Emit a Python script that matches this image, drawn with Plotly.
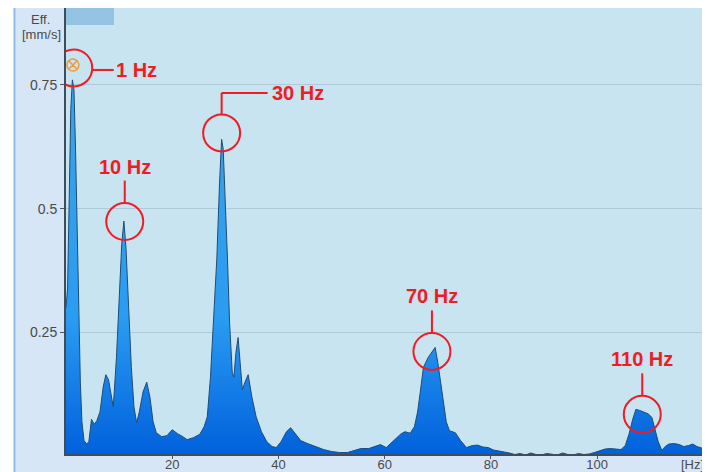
import plotly.graph_objects as go

# Spectrum (frequency in Hz, effective velocity in mm/s)
freq = [0.0, 0.3, 0.6, 0.9, 1.2, 1.5, 1.8, 2.1, 2.4, 2.7, 3.0, 3.4, 3.9, 4.3, 4.8, 5.3, 5.8, 6.4,
        7.0, 7.5, 8.0, 8.5, 8.9, 9.5, 10.0, 10.5, 10.9, 11.3, 11.8, 12.3, 12.8, 13.3, 13.8, 14.5,
        15.2, 15.8, 16.4, 17.0, 18.0, 19.0, 20.0, 21.0, 22.0, 22.8, 24.0, 25.2, 26.0, 26.6, 27.2,
        27.8, 28.4, 28.9, 29.3, 29.6, 30.0, 30.4, 30.8, 31.3, 31.6, 32.0, 32.4, 32.8, 33.2, 33.7,
        34.3, 35.0, 35.8, 36.8, 37.8, 38.8, 39.6, 40.5, 41.5, 42.3, 43.2, 44.2, 45.5, 47.0, 48.5,
        50.0, 51.5, 53.0, 54.5, 55.5, 57.0, 58.2, 59.2, 60.3, 61.3, 62.3, 63.0, 63.8, 64.8, 65.6,
        66.2, 66.7, 67.3, 68.2, 68.9, 69.5, 70.0, 70.5, 71.0, 71.6, 72.2, 73.3, 74.3, 75.4, 76.5,
        77.5, 78.5, 79.5, 80.5, 81.5, 82.5, 83.5, 84.5, 85.5, 86.5, 87.5, 88.5, 89.5, 90.5, 91.5,
        92.5, 93.5, 94.5, 95.5, 96.5, 97.5, 98.5, 99.5, 100.5, 101.5, 102.5, 103.5, 104.5, 105.3,
        106.0, 106.7, 107.3, 108.0, 108.8, 109.6, 110.3, 110.9, 111.5, 112.2, 112.8, 113.5, 114.5,
        115.5, 116.3, 117.2, 118.0, 118.8, 119.7, 120.5]
eff = [0.30, 0.34, 0.52, 0.70, 0.76, 0.74, 0.62, 0.47, 0.29, 0.15, 0.07, 0.032, 0.025, 0.03,
       0.075, 0.065, 0.072, 0.09, 0.14, 0.165, 0.155, 0.12, 0.10, 0.20, 0.33, 0.43, 0.475, 0.42,
       0.30, 0.18, 0.10, 0.068, 0.09, 0.13, 0.15, 0.12, 0.07, 0.048, 0.04, 0.042, 0.054, 0.046,
       0.04, 0.034, 0.038, 0.045, 0.06, 0.08, 0.16, 0.27, 0.40, 0.55, 0.64, 0.62, 0.52, 0.40,
       0.27, 0.17, 0.16, 0.21, 0.24, 0.19, 0.135, 0.15, 0.165, 0.12, 0.08, 0.05, 0.03, 0.02,
       0.018, 0.03, 0.05, 0.058, 0.045, 0.032, 0.026, 0.02, 0.014, 0.01, 0.008, 0.008, 0.012,
       0.016, 0.016, 0.02, 0.024, 0.018, 0.028, 0.036, 0.045, 0.05, 0.047, 0.06, 0.09, 0.13,
       0.18, 0.20, 0.212, 0.22, 0.19, 0.15, 0.11, 0.07, 0.052, 0.048, 0.032, 0.018, 0.022, 0.023,
       0.019, 0.018, 0.013, 0.011, 0.01, 0.007, 0.004, 0.006, 0.003, 0.007, 0.004, 0.003, 0.006,
       0.004, 0.003, 0.007, 0.004, 0.003, 0.006, 0.004, 0.005, 0.008, 0.012, 0.015, 0.016, 0.015,
       0.014, 0.022, 0.045, 0.075, 0.095, 0.093, 0.09, 0.086, 0.079, 0.055, 0.03, 0.012, 0.02,
       0.025, 0.026, 0.024, 0.02, 0.022, 0.025, 0.02, 0.017, 0.021]

# Cursor marker at the 1 Hz peak
cursor_f = [1.3]
cursor_v = [0.79]

# Highlighted peaks
peak_f = [1.46, 11.06, 29.3, 68.9, 108.5]
peak_v = [0.784, 0.474, 0.653, 0.212, 0.085]
peak_labels = ["1 Hz", "10 Hz", "30 Hz", "70 Hz", "110 Hz"]

x_ticks = [20, 40, 60, 80, 100]
y_ticks = [0.25, 0.5, 0.75]
y_tick_text = ["0.25", "0.5", "0.75"]

RED = "#ee1c24"
FONT = "Liberation Sans, Arial, sans-serif"
PW, PH = 640, 446  # plot area size in px (for paper-relative decorations)

fig = go.Figure()
fig.add_trace(go.Scatter(
    x=freq, y=eff, mode="lines", fill="tozeroy",
    line=dict(color="#1d4d78", width=1),
    fillgradient=dict(type="vertical", start=0, stop=0.7,
                      colorscale=[[0, "#0060dc"], [0.4, "#2a9cf2"], [1, "#3aa2e6"]]),
    hoverinfo="skip", showlegend=False))
fig.add_trace(go.Scatter(
    x=cursor_f, y=cursor_v, mode="markers",
    marker=dict(symbol="circle-x-open", size=12, color="#f39a38", line=dict(width=1.5)),
    hoverinfo="skip", showlegend=False))

shapes = []
# white strip left of the panel border
shapes.append(dict(type="rect", xref="paper", yref="paper", x0=-58/PW, x1=-52.5/PW,
                   y0=-0.2, y1=1.2, fillcolor="white", line_width=0, layer="below"))
shapes.append(dict(type="line", xref="paper", yref="paper", x0=-51.5/PW, x1=-51.5/PW,
                   y0=-30/PH, y1=1.0, line=dict(color="#93bdec", width=2)))
# top-left indicator bar
shapes.append(dict(type="rect", xref="paper", yref="paper", x0=0, x1=48/PW,
                   y0=1 - 17/PH, y1=1.0, fillcolor="#95c3e3", line_width=0, layer="below"))

annotations = []
lblfont = dict(family=FONT, size=20, color=RED)
for f, v, lab in zip(peak_f, peak_v, peak_labels):
    shapes.append(dict(type="circle", xref="x", yref="y", xsizemode="pixel", ysizemode="pixel",
                       xanchor=f, yanchor=v, x0=-18.5, x1=18.5, y0=-18.5, y1=18.5,
                       line=dict(color=RED, width=2), layer="above"))
    if lab == "1 Hz":
        shapes.append(dict(type="line", xref="x", yref="y", xsizemode="pixel", ysizemode="pixel",
                           xanchor=f, yanchor=v, x0=18.5, x1=40, y0=-2, y1=-2,
                           line=dict(color=RED, width=2)))
        annotations.append(dict(x=f, y=v, xref="x", yref="y", text="<b>%s</b>" % lab,
                                showarrow=False, xanchor="left", yanchor="middle",
                                xshift=40, yshift=-2, font=lblfont))
    elif lab == "30 Hz":
        shapes.append(dict(type="line", xref="x", yref="y", xsizemode="pixel", ysizemode="pixel",
                           xanchor=f, yanchor=v, x0=0, x1=0, y0=18.5, y1=40,
                           line=dict(color=RED, width=2)))
        shapes.append(dict(type="line", xref="x", yref="y", xsizemode="pixel", ysizemode="pixel",
                           xanchor=f, yanchor=v, x0=0, x1=46, y0=40, y1=40,
                           line=dict(color=RED, width=2)))
        annotations.append(dict(x=f, y=v, xref="x", yref="y", text="<b>%s</b>" % lab,
                                showarrow=False, xanchor="left", yanchor="middle",
                                xshift=48, yshift=40, font=lblfont))
    else:
        shapes.append(dict(type="line", xref="x", yref="y", xsizemode="pixel", ysizemode="pixel",
                           xanchor=f, yanchor=v, x0=0, x1=0, y0=18.5, y1=41,
                           line=dict(color=RED, width=2)))
        annotations.append(dict(x=f, y=v, xref="x", yref="y", text="<b>%s</b>" % lab,
                                showarrow=False, xanchor="center", yanchor="middle",
                                xshift=0, yshift=55, font=lblfont))

tickfont = dict(family=FONT, size=14, color="#4a4a4a")
xtickfont = dict(family=FONT, size=13, color="#4a4a4a")
annotations.append(dict(xref="paper", yref="paper", x=0, y=1, xshift=-26, yshift=-11,
                        text="Eff.", showarrow=False, xanchor="center", yanchor="middle",
                        font=dict(family=FONT, size=13, color="#4a4a4a")))
annotations.append(dict(xref="paper", yref="paper", x=0, y=1, xshift=-25, yshift=-26,
                        text="[mm/s]", showarrow=False, xanchor="center", yanchor="middle",
                        font=dict(family=FONT, size=13, color="#4a4a4a")))
annotations.append(dict(xref="paper", yref="paper", x=1, y=0, xshift=-14, yshift=-10,
                        text="[Hz]", showarrow=False, xanchor="center", yanchor="middle",
                        font=dict(family=FONT, size=13, color="#4a4a4a")))

fig.update_layout(
    width=710, height=472,
    margin=dict(l=58, r=12, t=0, b=26, pad=0),
    paper_bgcolor="#d6e6f6", plot_bgcolor="#c8e4f0",
    shapes=shapes, annotations=annotations,
    xaxis=dict(range=[0, 120.5], tickvals=x_ticks, ticks="outside", ticklen=3,
               tickcolor="#555555", tickfont=xtickfont, showgrid=False, zeroline=False,
               showline=True, linecolor="#3d4d5a", linewidth=1.5, fixedrange=True,
               ticklabelstandoff=-5),
    yaxis=dict(range=[0.005, 0.905], tickvals=y_ticks, ticktext=y_tick_text, ticks="outside",
               ticklen=4, tickcolor="#555555", tickfont=tickfont, showgrid=True,
               gridcolor="#aecad6", gridwidth=1, zeroline=False, showline=True,
               linecolor="#3d4d5a", linewidth=2, fixedrange=True),
)

fig.write_html("out.html")
